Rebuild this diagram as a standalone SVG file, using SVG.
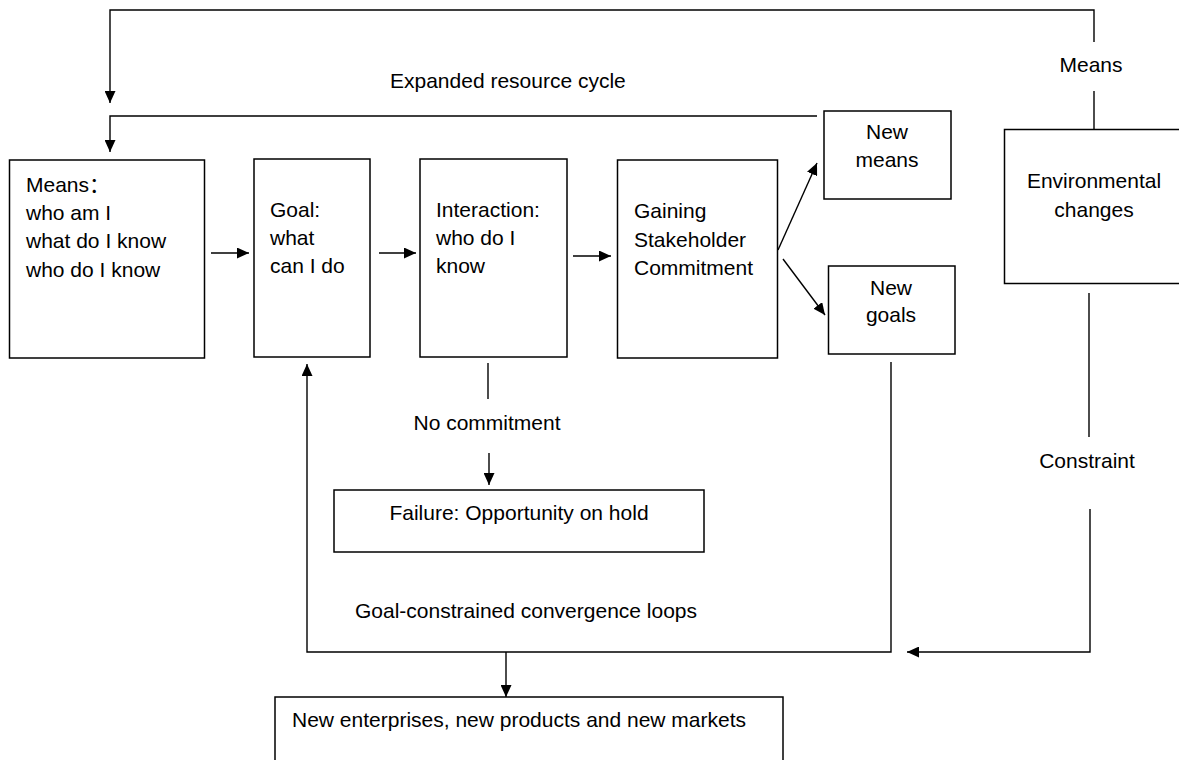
<svg xmlns="http://www.w3.org/2000/svg" width="1179" height="760" viewBox="0 0 1179 760">
<style>
  .box { fill: #fff; stroke: #000; stroke-width: 1.5; }
  .ln { fill: none; stroke: #000; stroke-width: 1.4; }
  text { font-family: "Liberation Sans", "Noto Sans CJK SC", sans-serif; font-size: 21px; fill: #000; }
  .c { text-anchor: middle; }
</style>
<defs>
  <marker id="arr" markerUnits="userSpaceOnUse" markerWidth="13" markerHeight="11" refX="12" refY="5.5" orient="auto">
    <path d="M0,0 L12,5.5 L0,11 z" fill="#000"/>
  </marker>
</defs>
<rect width="1179" height="760" fill="#fff"/>

<g id="connectors">
  <path class="ln" d="M1094,42 V10 H110 V103" marker-end="url(#arr)"/>
  <path class="ln" d="M1094,91 V129"/>
  <path class="ln" d="M817,116 H110 V152" marker-end="url(#arr)"/>
  <path class="ln" d="M211,253 H249" marker-end="url(#arr)"/>
  <path class="ln" d="M379,253 H416" marker-end="url(#arr)"/>
  <path class="ln" d="M573,256 H611" marker-end="url(#arr)"/>
  <path class="ln" d="M778,250 L817,163" marker-end="url(#arr)"/>
  <path class="ln" d="M783,259 L825,315" marker-end="url(#arr)"/>
  <path class="ln" d="M488,363 V399"/>
  <path class="ln" d="M489,453 V485" marker-end="url(#arr)"/>
  <path class="ln" d="M891,362 V652 H307 V364" marker-end="url(#arr)"/>
  <path class="ln" d="M506,652 V697" marker-end="url(#arr)"/>
  <path class="ln" d="M1089,293 V437"/>
  <path class="ln" d="M1090,509 V652 H907" marker-end="url(#arr)"/>
</g>

<g id="labels">
  <text x="390" y="88">Expanded resource cycle</text>
  <text class="c" x="1091" y="72">Means</text>
  <text class="c" x="487" y="430">No commitment</text>
  <text class="c" x="1087" y="468">Constraint</text>
  <text x="355" y="618">Goal-constrained convergence loops</text>
</g>

<g id="means">
  <rect class="box" x="9.5" y="160" width="195" height="198"/>
  <text x="26" y="192">Means：</text>
  <text x="26" y="220">who am I</text>
  <text x="26" y="248">what do I know</text>
  <text x="26" y="277">who do I know</text>
</g>

<g id="goal">
  <rect class="box" x="254" y="159" width="116" height="198"/>
  <text x="270" y="217">Goal:</text>
  <text x="270" y="245">what</text>
  <text x="270" y="273">can I do</text>
</g>

<g id="interaction">
  <rect class="box" x="420" y="159" width="147" height="198"/>
  <text x="436" y="217">Interaction:</text>
  <text x="436" y="245">who do I</text>
  <text x="436" y="273">know</text>
</g>

<g id="gaining">
  <rect class="box" x="617.5" y="160" width="160" height="198"/>
  <text x="634" y="218">Gaining</text>
  <text x="634" y="247">Stakeholder</text>
  <text x="634" y="275">Commitment</text>
</g>

<g id="new-means">
  <rect class="box" x="824" y="111" width="127" height="88"/>
  <text class="c" x="887" y="139">New</text>
  <text class="c" x="887" y="167">means</text>
</g>

<g id="new-goals">
  <rect class="box" x="828.5" y="266" width="126.5" height="88"/>
  <text class="c" x="891" y="295">New</text>
  <text class="c" x="891" y="322">goals</text>
</g>

<g id="environmental">
  <rect class="box" x="1004.5" y="129.5" width="190" height="154"/>
  <text class="c" x="1094" y="188">Environmental</text>
  <text class="c" x="1094" y="217">changes</text>
</g>

<g id="failure">
  <rect class="box" x="334" y="490" width="370" height="62"/>
  <text class="c" x="519" y="520">Failure: Opportunity on hold</text>
</g>

<g id="outcome">
  <rect class="box" x="275" y="697" width="508" height="80"/>
  <text x="292" y="727">New enterprises, new products and new markets</text>
</g>
</svg>
